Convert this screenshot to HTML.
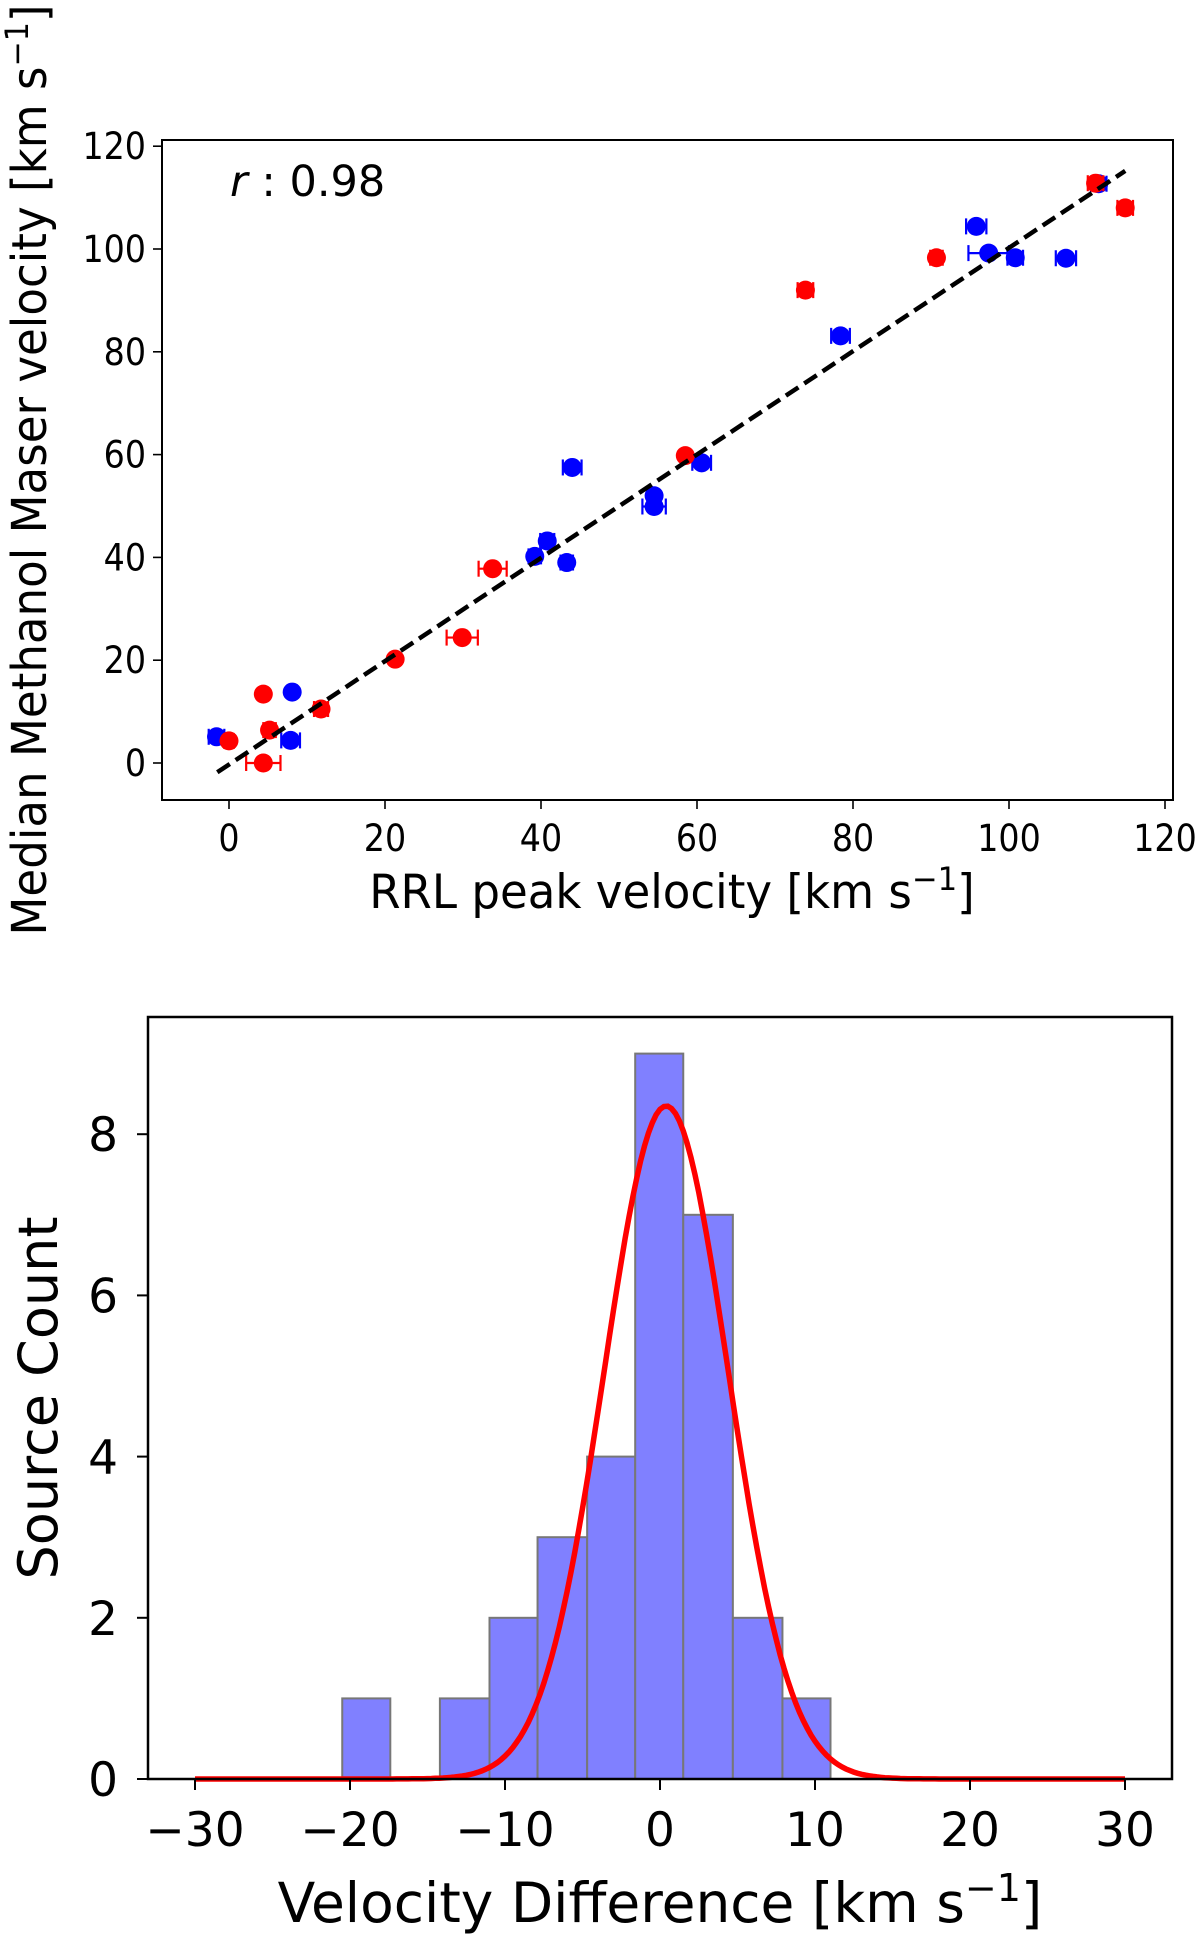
<!DOCTYPE html>
<html><head><meta charset="utf-8"><style>
html,body{margin:0;padding:0;background:#fff;}
svg{display:block;font-family:"DejaVu Sans","Liberation Sans",sans-serif;}
</style></head><body>
<svg id="fig" width="1200" height="1938" viewBox="0 0 1200 1938" xmlns="http://www.w3.org/2000/svg">
<g id="top"></g>
<g id="bot"></g>
</svg>
<script>
// ---- scatter data ----
const redX = [0, 4.4, 5.2, 4.4, 11.8, 21.3, 29.9, 33.8, 58.5, 73.9, 90.7, 111.1, 114.9];
const redY = [4.3, 13.4, 6.4, 0, 10.5, 20.2, 24.4, 37.8, 59.8, 92.0, 98.3, 112.8, 108.0];
const redErr = [0.6, 0.3, 0.8, 2.2, 0.9, 0.4, 2.0, 1.8, 0.4, 1.0, 0.8, 1.0, 1.0];
const blueX = [-1.6, 8.1, 7.9, 39.2, 40.8, 43.3, 44.0, 54.5, 54.5, 60.6, 78.4, 95.8, 97.4, 100.8, 107.3, 111.5];
const blueY = [5.1, 13.8, 4.4, 40.2, 43.2, 39.0, 57.5, 52.0, 49.9, 58.4, 83.1, 104.4, 99.2, 98.3, 98.2, 112.7];
const blueErr = [1.0, 0.3, 1.2, 0.8, 0.9, 0.8, 1.2, 0.5, 1.5, 1.2, 1.2, 1.3, 2.6, 1.0, 1.3, 1.0];
const fitLine = [[-1.5, -1.8], [114.9, 115.2]];
const topTicks = [0, 20, 40, 60, 80, 100, 120];
// ---- histogram data ----
const binEdges = [-20.5, -17.4, -14.2, -11.0, -7.9, -4.7, -1.6, 1.5, 4.7, 7.9, 11.0];
const binCounts = [1, 0, 1, 2, 3, 4, 9, 7, 2, 1];
const gaussParams = [8.35, 0.4, 4.0]; // amplitude, mean, sigma
const histXTicks = [-30, -20, -10, 0, 10, 20, 30];
const histYTicks = [0, 2, 4, 6, 8];

const NS = "http://www.w3.org/2000/svg";
function mk(parent, tag, attrs, text) {
  const e = document.createElementNS(NS, tag);
  for (const k in attrs) e.setAttribute(k, attrs[k]);
  if (text !== undefined) e.textContent = text;
  parent.appendChild(e);
  return e;
}
const T = document.getElementById('top');
const B = document.getElementById('bot');

// ---- top axes ----
const tx = v => 229 + v * 7.8;
const ty = v => 763 - v * 5.14;
const frame1 = mk(T, 'rect', {x:162, y:140, width:1011, height:660, fill:'none', stroke:'#000', 'stroke-width':2});


topTicks.forEach(t => {
  const l = mk(T, 'line', {x1:tx(t), x2:tx(t), y1:800, y2:809, stroke:'#000', 'stroke-width':1.6});
  
  
  const lb = mk(T, 'text', {x:tx(t), y:851, 'font-size':37, 'text-anchor':'middle', transform:'translate('+(tx(t)*0.1)+',0) scale(0.9,1)'}, String(t));
  
  
  const l2 = mk(T, 'line', {x1:153, x2:162, y1:ty(t), y2:ty(t), stroke:'#000', 'stroke-width':1.6});
  
  
  const lb2 = mk(T, 'text', {x:146, y:ty(t) + 13, 'font-size':37, 'text-anchor':'end', transform:'translate('+(146*0.1)+',0) scale(0.9,1)'}, String(t));
  
  
});
const xl1 = mk(T, 'text', {x:672, y:908, 'font-size':47, 'text-anchor':'middle', transform:'translate('+(672*0.04)+',0) scale(0.96,1)'});


xl1.innerHTML = 'RRL peak velocity [km s<tspan dy="-18" font-size="32">−1</tspan><tspan dy="18">]</tspan>';
const yl1 = mk(T, 'text', {x:0, y:0, 'font-size':48, 'text-anchor':'middle', transform:'translate(46,470) rotate(-90) scale(0.94,1)'});


yl1.innerHTML = 'Median Methanol Maser velocity [km s<tspan dy="-18" font-size="32">−1</tspan><tspan dy="18">]</tspan>';
const rl = mk(T, 'text', {x:230, y:196, 'font-size':43});


rl.innerHTML = '<tspan font-style="italic">r</tspan> : 0.98';

function drawPts(xs, ys, es, color, name) {
  xs.forEach((x, i) => {
    const g = mk(T, 'g', {});
    
    
    const x1 = tx(x - es[i]), x2 = tx(x + es[i]), y = ty(ys[i]);
    mk(g, 'line', {x1:x1, x2:x2, y1:y, y2:y, stroke:color, 'stroke-width':2.2});
    mk(g, 'line', {x1:x1, x2:x1, y1:y - 8, y2:y + 8, stroke:color, 'stroke-width':2.2});
    mk(g, 'line', {x1:x2, x2:x2, y1:y - 8, y2:y + 8, stroke:color, 'stroke-width':2.2});
    mk(g, 'circle', {cx:tx(x), cy:y, r:9.5, fill:color});
  });
}
drawPts(blueX, blueY, blueErr, '#0000ff', 'blue-point');
drawPts(redX, redY, redErr, '#ff0000', 'red-point');
const fl = mk(T, 'line', {x1:tx(fitLine[0][0]), y1:ty(fitLine[0][1]), x2:tx(fitLine[1][0]), y2:ty(fitLine[1][1]), stroke:'#000', 'stroke-width':4.5, 'stroke-dasharray':'15 7'});



// ---- bottom histogram ----
const hx = v => 660 + v * 15.5;
const hy = v => 1779 - v * 80.6;
binCounts.forEach((c, i) => {
  if (c <= 0) return;
  const r = mk(B, 'rect', {x:hx(binEdges[i]), y:hy(c), width:hx(binEdges[i + 1]) - hx(binEdges[i]), height:hy(0) - hy(c), fill:'#8080ff', stroke:'#777', 'stroke-width':2});
  
  
});
let d = '';
for (let v = -30; v <= 30.001; v += 0.25) {
  const g = gaussParams[0] * Math.exp(-Math.pow(v - gaussParams[1], 2) / (2 * gaussParams[2] * gaussParams[2]));
  d += (d ? 'L' : 'M') + hx(v).toFixed(1) + ' ' + hy(g).toFixed(1);
}
const gc = mk(B, 'path', {d:d, fill:'none', stroke:'#ff0000', 'stroke-width':5.5});


const frame2 = mk(B, 'rect', {x:148, y:1017, width:1024, height:762, fill:'none', stroke:'#000', 'stroke-width':2.5});


histXTicks.forEach(t => {
  const l = mk(B, 'line', {x1:hx(t), x2:hx(t), y1:1779, y2:1790, stroke:'#000', 'stroke-width':2});
  
  
  const lb = mk(B, 'text', {x:hx(t), y:1846, 'font-size':47, 'text-anchor':'middle'}, (t < 0 ? '−' + (-t) : String(t)));
  
  
});
histYTicks.forEach(t => {
  const l = mk(B, 'line', {x1:137, x2:148, y1:hy(t), y2:hy(t), stroke:'#000', 'stroke-width':2});
  
  
  const lb = mk(B, 'text', {x:118, y:hy(t) + 17, 'font-size':47, 'text-anchor':'end'}, String(t));
  
  
});
const xl2 = mk(B, 'text', {x:660, y:1922, 'font-size':55, 'text-anchor':'middle'});


xl2.innerHTML = 'Velocity Difference [km s<tspan dy="-21" font-size="38">−1</tspan><tspan dy="21">]</tspan>';
const yl2 = mk(B, 'text', {x:0, y:0, 'font-size':54, 'text-anchor':'middle', transform:'translate(57,1398) rotate(-90)'}, 'Source Count');


</script>
</body></html>
